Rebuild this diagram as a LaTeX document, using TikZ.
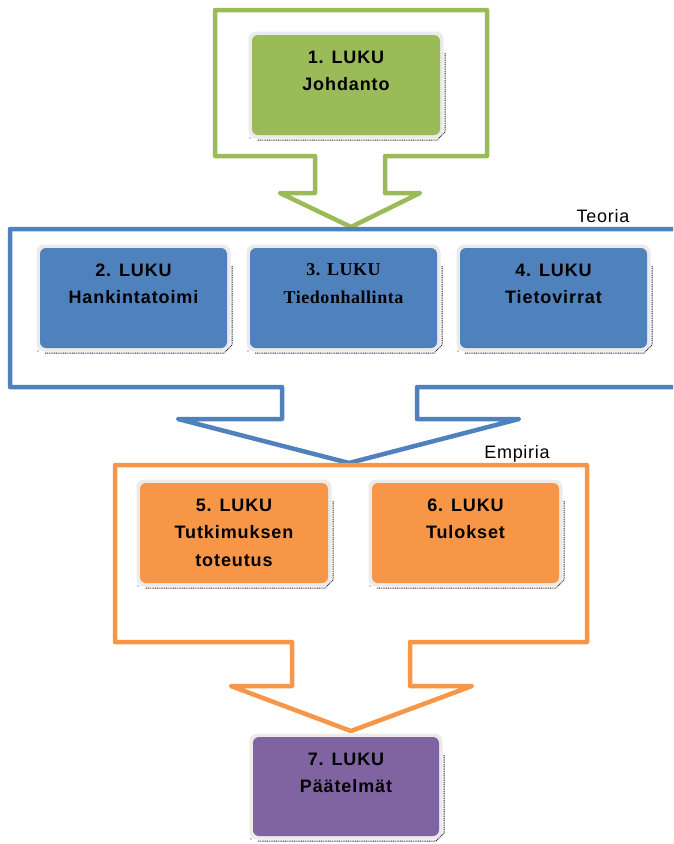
\documentclass[tikz,border=0pt]{standalone}
\usepackage{fontspec}
\setmainfont{Liberation Sans}
\newfontfamily\boxfont[LetterSpace=5]{Liberation Sans}
\newfontfamily\boxseriffont[LetterSpace=3]{Liberation Serif}
\newfontfamily\lblfont[LetterSpace=4]{Liberation Sans}
\usetikzlibrary{calc}
\definecolor{cgreen}{HTML}{9BBB59}
\definecolor{cblue}{HTML}{4F81BD}
\definecolor{corange}{HTML}{F79646}
\definecolor{cpurple}{HTML}{8064A2}
\definecolor{glow}{HTML}{EBEBEB}
\tikzset{
  frame/.style={line width=4.5pt, line join=round},
  boxbody/.style={rounded corners=6pt, inner sep=0pt, outer sep=0pt},
  glowbody/.style={fill=glow, rounded corners=8pt},
  shadowline/.style={line width=1pt, dash pattern=on 1pt off 0.8pt},
  boxtext/.style={anchor=north, inner sep=0pt, align=center, text=black},
  lbl/.style={font=\lblfont\fontsize{18}{20}\selectfont, inner sep=0pt, text=black}
}
% name, L, T, R, B, colour, text, font
\newcommand\chapbox[8]{%
  \path[glowbody] (#2-3.5,#3-3.5) rectangle (#4+3.5,#5+3.5);
  \node[boxbody, fill=#6, minimum width={(#4-#2)*1pt}, minimum height={(#5-#3)*1pt}] (#1) at ({(#2+#4)/2},{(#3+#5)/2}) {};
  \draw[shadowline, draw=#6!30!black] (#4+5,#3+18) -- (#4+5,#5-3) -- (#4-3,#5+5) -- (#2+5,#5+5);
  \fill[#6!30!black] (#2-2,#5+3) circle (0.7pt);
  \node[boxtext, font=#8\bfseries\fontsize{18}{27.5}\selectfont] (#1-t) at ({(#2+#4)/2},{#3+15.5}) {#7};
}
\begin{document}
\begin{tikzpicture}[x=1pt,y=-1pt]
\useasboundingbox (0,0) rectangle (673,844);
\clip (0,0) rectangle (673,844);
\fill[white] (0,0) rectangle (673,844);
% callout frames
\draw[frame, cgreen] (215,10) -- (487,10) -- (487,156) -- (385,156) -- (385,193) -- (420,193) -- (351,227) -- (280,193) -- (315,193) -- (315,156) -- (215,156) -- cycle;
\draw[frame, cblue] (10,229) -- (700,229) -- (700,387) -- (417,387) -- (417,419) -- (519,419) -- (349,463) -- (178,419) -- (282,419) -- (282,387) -- (10,387) -- cycle;
\draw[frame, corange] (115,465) -- (587,465) -- (587,642) -- (410,642) -- (410,686) -- (472,686) -- (351,731) -- (231,686) -- (292,686) -- (292,642) -- (115,642) -- cycle;
% labels
\node[lbl] (teoria) at (603,216) {Teoria};
\node[lbl] (empiria) at (517,454) {Empiria};
% chapter boxes
\chapbox{b1}{252}{35}{440}{135}{cgreen}{1. LUKU\\Johdanto}{\boxfont}
\chapbox{b2}{40}{248}{227}{348}{cblue}{2. LUKU\\Hankintatoimi}{\boxfont}
\chapbox{b3}{250}{248}{437}{348}{cblue}{3. LUKU\\Tiedonhallinta}{\boxseriffont}
\chapbox{b4}{460}{248}{647}{348}{cblue}{4. LUKU\\Tietovirrat}{\boxfont}
\chapbox{b5}{140}{483}{328}{583}{corange}{5. LUKU\\Tutkimuksen\\toteutus}{\boxfont}
\chapbox{b6}{372}{483}{559}{583}{corange}{6. LUKU\\Tulokset}{\boxfont}
\chapbox{b7}{253}{737}{439}{836}{cpurple}{7. LUKU\\Päätelmät}{\boxfont}
\end{tikzpicture}
\end{document}
